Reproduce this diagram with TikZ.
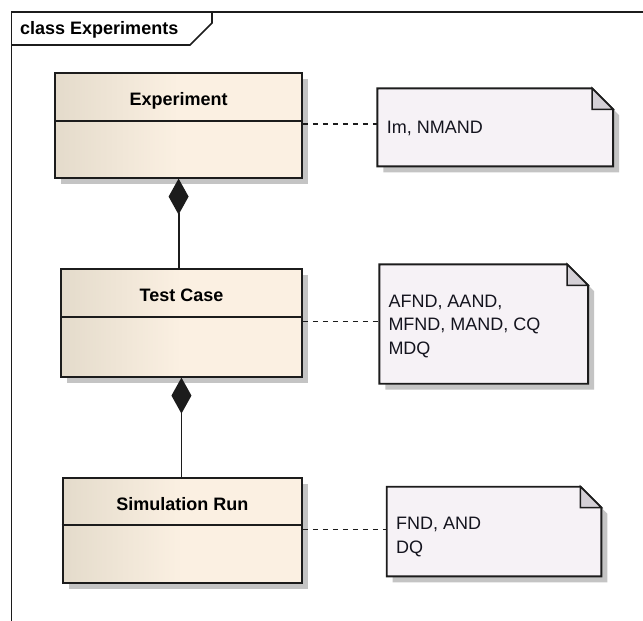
\documentclass[tikz,border=0pt]{standalone}
\usepackage{fontspec}
\setmainfont{Liberation Sans}
\usetikzlibrary{arrows.meta,shadows}

\definecolor{clsL}{RGB}{228,219,203}
\definecolor{clsR}{RGB}{251,240,226}
\definecolor{noteC}{RGB}{246,242,246}
\definecolor{foldC}{RGB}{212,208,214}
\definecolor{edgeC}{RGB}{28,28,28}
\definecolor{shadeC}{RGB}{196,196,196}
\definecolor{txtC}{RGB}{20,20,30}

% dog-eared note outline drawn round a placeholder node: #1 node name
\newcommand\dogear[1]{%
  \fill[shadeC] ([shift={(6pt,-6pt)}]#1.north west) -- ([shift={(-15pt,-6pt)}]#1.north east)
    -- ([shift={(6pt,-27pt)}]#1.north east) -- ([shift={(6pt,-6pt)}]#1.south east)
    -- ([shift={(6pt,-6pt)}]#1.south west) -- cycle;
  \filldraw[fill=noteC, draw=edgeC, line width=1.9pt, line join=miter]
    (#1.north west) -- ([xshift=-21pt]#1.north east) -- ([yshift=-21pt]#1.north east)
    -- (#1.south east) -- (#1.south west) -- cycle;
  \filldraw[fill=foldC, draw=edgeC, line width=1.5pt]
    ([xshift=-21pt]#1.north east) -- ([shift={(-21pt,-21pt)}]#1.north east)
    -- ([yshift=-21pt]#1.north east) -- cycle;
}

\begin{document}
\begin{tikzpicture}[x=1pt,y=-1pt,
  every node/.style={font=\fontsize{18}{23}\selectfont, text=txtC},
  classbox/.style={draw=edgeC, line width=1.9pt, rectangle, inner sep=0pt,
    anchor=north west, left color=clsL, right color=clsR, middle color=clsR,
    drop shadow={shadow xshift=6pt, shadow yshift=-6pt, fill=shadeC, opacity=1}},
  classname/.style={anchor=base, inner sep=0pt, font=\fontsize{18}{23}\selectfont\bfseries, text=black},
  notebox/.style={rectangle, inner sep=0pt, anchor=north west},
  notetext/.style={anchor=base west, inner sep=0pt},
  divider/.style={draw=edgeC, line width=1.9pt},
  compo/.style={draw=edgeC, line width=1.9pt, {Diamond[length=36pt,width=20pt]}-},
  anchorline/.style={draw=edgeC, line width=1.5pt, dash pattern=on 5pt off 5pt}]

\useasboundingbox (0,0) rectangle (643,621);
\fill[white] (0,0) rectangle (643,621);

% diagram frame with its name tab
\draw[edgeC, line width=1.7pt] (11.5,621) -- (11.5,12) -- (643,12);
\draw[edgeC, line width=1.7pt] (11.5,45) -- (190,45) -- (212,23) -- (212,12);
\node[anchor=base west, inner sep=0pt, font=\fontsize{18}{23}\selectfont\bfseries, text=black]
  (frame) at (20,34.3) {class Experiments};

% classes
\node[classbox, minimum width=246.7pt, minimum height=104.7pt] (exp) at (54.3,72) {};
\node[classbox, minimum width=241pt, minimum height=107.4pt] (tc) at (60,268.3) {};
\node[classbox, minimum width=239.3pt, minimum height=105.6pt] (sr) at (61.7,476.7) {};

\node[classname] (expname) at ([yshift=-33.5pt]exp.north) {Experiment};
\node[classname] (tcname) at ([yshift=-33.5pt]tc.north) {Test Case};
\node[classname] (srname) at ([yshift=-33.5pt]sr.north) {Simulation Run};

\draw[divider] (exp.west |- 0,121) -- (exp.east |- 0,121);
\draw[divider] (tc.west |- 0,316.7) -- (tc.east |- 0,316.7);
\draw[divider] (sr.west |- 0,524.7) -- (sr.east |- 0,524.7);

% compositions
\draw[compo] (exp.south) -- (exp.south |- tc.north);
\draw[compo] (tc.south) -- (tc.south |- sr.north);

% notes
\node[notebox, minimum width=235.4pt, minimum height=77.7pt] (n1) at (377.3,88.3) {};
\node[notebox, minimum width=208.4pt, minimum height=119pt] (n2) at (379.3,264.3) {};
\node[notebox, minimum width=214.3pt, minimum height=89.3pt] (n3) at (386.7,486.7) {};
\dogear{n1}
\dogear{n2}
\dogear{n3}

\node[notetext] (n1a) at (386.7,133.5) {Im, NMAND};
\node[notetext] (n2a) at (388.3,307) {AFND, AAND,};
\node[notetext] (n2b) at (388.3,330.8) {MFND, MAND, CQ};
\node[notetext] (n2c) at (388.3,354) {MDQ};
\node[notetext] (n3a) at (396,529.8) {FND, AND};
\node[notetext] (n3b) at (396,553.2) {DQ};

% note attachments
\draw[anchorline] (exp.east |- 0,124) -- (n1.west |- 0,124);
\draw[anchorline] (tc.east |- 0,321.7) -- (n2.west |- 0,321.7);
\draw[anchorline] (sr.east |- 0,529.3) -- (n3.west |- 0,529.3);
\end{tikzpicture}
\end{document}
